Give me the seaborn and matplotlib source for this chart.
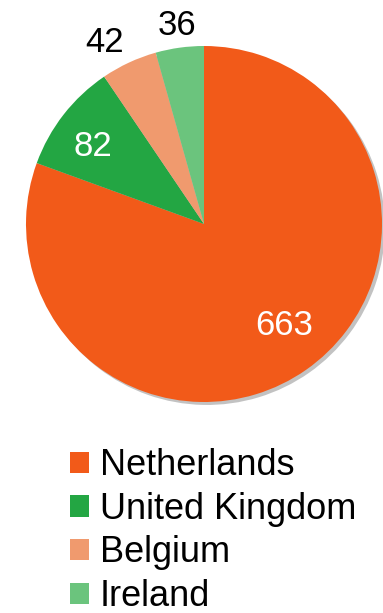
import matplotlib
matplotlib.use("Agg")
import matplotlib.pyplot as plt
import numpy as np
import seaborn as sns

# Data
countries = ["Netherlands", "United Kingdom", "Belgium", "Ireland"]
counts = [663, 82, 42, 36]
colors = ["#F25A19", "#23A643", "#F09A6E", "#6BC47D"]
label_colors = ["white", "white", "black", "black"]
# label placement: distance from centre (in radii) and angular nudge (degrees)
label_radius = [0.726, 0.762, 1.164, 1.128]
label_nudge = [3.2, 2.9, 3.9, -0.2]

sns.set_theme(style="white")
plt.rcParams["font.family"] = ["Liberation Sans", "DejaVu Sans"]
plt.rcParams["text.color"] = "black"

W, H, DPI = 383, 613, 100
fig = plt.figure(figsize=(W / DPI, H / DPI), dpi=DPI)
fig.patch.set_facecolor("white")

cx, cy, r = 204, 224, 178
ax = fig.add_axes([(cx - r) / W, (H - cy - r) / H, 2 * r / W, 2 * r / H])

wedges, _ = ax.pie(
    counts,
    colors=colors,
    startangle=90,
    counterclock=False,
    radius=1,
    wedgeprops=dict(linewidth=0),
    shadow=dict(ox=0.012, oy=-0.012, facecolor="#9a9a9a", edgecolor="#9a9a9a", alpha=0.6),
)
ax.set_xlim(-1, 1)
ax.set_ylim(-1, 1)
ax.set_aspect("equal")
ax.axis("off")

# Value labels placed near each wedge's bisector
for w, val, col, rad, nudge in zip(wedges, counts, label_colors, label_radius, label_nudge):
    ang = np.deg2rad((w.theta1 + w.theta2) / 2 + nudge)
    ax.text(rad * np.cos(ang), rad * np.sin(ang), str(val),
            ha="center", va="center", fontsize=25, color=col, clip_on=False)

fig.legend(
    wedges, countries,
    loc="upper left",
    bbox_to_anchor=(70 / W, 1 - 448 / H),
    frameon=False,
    fontsize=26,
    labelcolor="black",
    handlelength=0.53,
    handleheight=0.53,
    handletextpad=0.3,
    labelspacing=0.24,
    borderpad=0,
    borderaxespad=0,
)

fig.savefig("out.png", dpi=DPI, facecolor="white")
